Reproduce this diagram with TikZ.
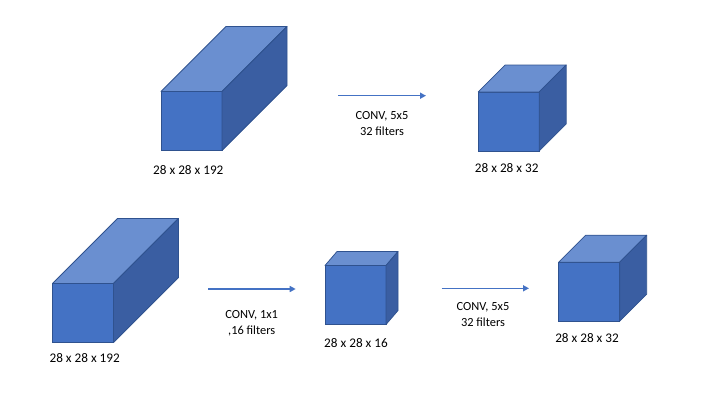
\documentclass[tikz,border=0pt]{standalone}
\usepackage{fontspec}
\setmainfont{Carlito}
\usetikzlibrary{positioning}
\usetikzlibrary{arrows.meta}
\definecolor{cuboFrente}{RGB}{68,114,196}
\definecolor{cuboTapa}{RGB}{106,143,208}
\definecolor{cuboLado}{RGB}{58,94,162}
\definecolor{cuboBorde}{RGB}{47,82,143}
\tikzset{
  frente/.style={
    rectangle, draw=cuboBorde, line width=0.75pt, fill=cuboFrente,
    minimum width=61pt, minimum height=59pt, inner sep=0pt, outer sep=0pt
  },
  tapa/.style={draw=cuboBorde, line width=0.75pt, fill=cuboTapa, line join=round},
  lado/.style={draw=cuboBorde, line width=0.75pt, fill=cuboLado, line join=round},
  flecha/.style={-{Triangle[length=6pt,width=6pt]}, line width=1.5pt, draw=cuboFrente},
  medida/.style={font=\fontsize{13.2}{16}\selectfont, inner sep=0pt},
  conv/.style={font=\fontsize{12.4}{16.5}\selectfont, align=center, inner sep=0pt}
}
\begin{document}
\begin{tikzpicture}[x=1pt, y=-1pt]
  \useasboundingbox (0,0) rectangle (720,405);

  % fila de arriba
  \node[frente] (cuboA) at (191.5,121) {};
  \filldraw[tapa] (cuboA.north west) -- ++(65,-65) -- ++(61,0) -- (cuboA.north east) -- cycle;
  \filldraw[lado] (cuboA.north east) -- ++(65,-65) -- ++(0,59) -- (cuboA.south east) -- cycle;
  \node[frente] (cuboB) at (508.7,121.5) {};
  \filldraw[tapa] (cuboB.north west) -- ++(27,-27) -- ++(61,0) -- (cuboB.north east) -- cycle;
  \filldraw[lado] (cuboB.north east) -- ++(27,-27) -- ++(0,59) -- (cuboB.south east) -- cycle;

  \node[medida] (dimA) at (188.3,170) {28 x 28 x 192};
  \node[medida] (dimB) at (506.7,168) {28 x 28 x 32};

  \coordinate (f1i) at (338,95.7);
  \coordinate (f1f) at (426,95.7);
  \draw[flecha] (f1i) -- (f1f);
  \node[conv] (convA) at (382,123.3) {CONV, 5x5\\32 filters};

  % fila de abajo
  \node[frente] (cuboC) at (83,313) {};
  \filldraw[tapa] (cuboC.north west) -- ++(65,-65) -- ++(61,0) -- (cuboC.north east) -- cycle;
  \filldraw[lado] (cuboC.north east) -- ++(65,-65) -- ++(0,59) -- (cuboC.south east) -- cycle;
  \node[frente] (cuboD) at (355.5,295) {};
  \filldraw[tapa] (cuboD.north west) -- ++(12,-14) -- ++(61,0) -- (cuboD.north east) -- cycle;
  \filldraw[lado] (cuboD.north east) -- ++(12,-14) -- ++(0,59) -- (cuboD.south east) -- cycle;
  \node[frente] (cuboE) at (589.2,291.7) {};
  \filldraw[tapa] (cuboE.north west) -- ++(27,-27) -- ++(61,0) -- (cuboE.north east) -- cycle;
  \filldraw[lado] (cuboE.north east) -- ++(27,-27) -- ++(0,59) -- (cuboE.south east) -- cycle;

  \node[medida] (dimC) at (84.7,358.5) {28 x 28 x 192};
  \node[medida] (dimD) at (356,342.7) {28 x 28 x 16};
  \node[medida] (dimE) at (587,338) {28 x 28 x 32};

  \coordinate (f2i) at (208,289);
  \coordinate (f2f) at (295.7,289);
  \coordinate (f3i) at (441.7,288.3);
  \coordinate (f3f) at (529,288.3);
  \draw[flecha] (f2i) -- (f2f);
  \draw[flecha] (f3i) -- (f3f);
  \node[conv] (convB) at (251.7,323.3) {CONV, 1x1\\,16 filters};
  \node[conv] (convC) at (483,314.5) {CONV, 5x5\\32 filters};
\end{tikzpicture}
\end{document}
